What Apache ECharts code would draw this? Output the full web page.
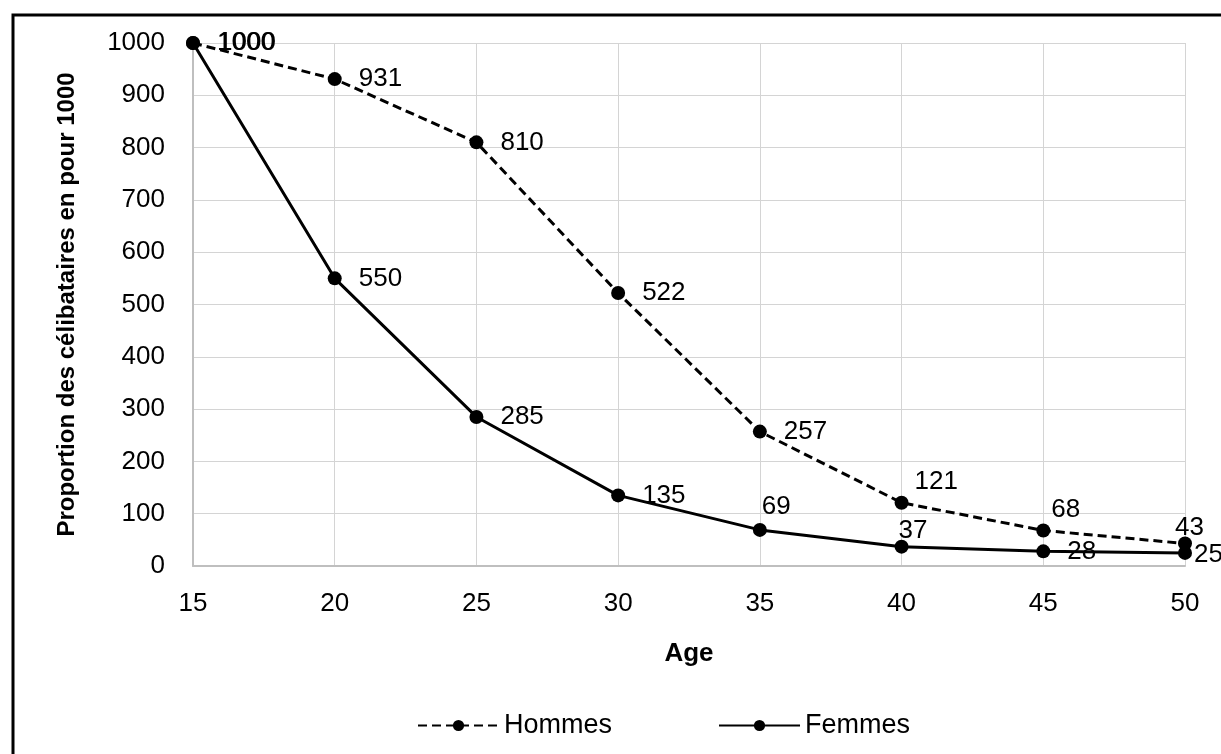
<!DOCTYPE html>
<html>
<head>
<meta charset="utf-8">
<script src="https://cdn.jsdelivr.net/npm/echarts@6/dist/echarts.min.js"></script>
<style>
  html, body { margin: 0; padding: 0; background: #fff; }
  #chart { width: 1221px; height: 754px; }
</style>
</head>
<body>
<div id="chart"></div>
<script>
  // ages (x) and proportion of single people per 1000
  var ages = [15, 20, 25, 30, 35, 40, 45, 50];
  var hommes = [1000, 931, 810, 522, 257, 121, 68, 43];
  var femmes = [1000, 550, 285, 135, 69, 37, 28, 25];
  var seriesNames = ['Hommes', 'Femmes'];

  var font = 'Liberation Sans, Arial, sans-serif';

  // a few labels sit above / left of their point in the original
  var hommesShift = {5: [-11, -21], 6: [-16, -21], 7: [-34, -16]};
  var femmesShift = {0: [1, 0], 4: [-22, -23], 5: [-27, -16], 7: [-15, 2]};

  function buildData(values, shifts) {
    return values.map(function (v, i) {
      var item = { value: [ages[i], v] };
      if (shifts[i]) {
        item.label = { offset: shifts[i] };
      }
      return item;
    });
  }

  var labelStyle = {
    show: true,
    position: 'right',
    distance: 17,
    color: '#000',
    fontFamily: font,
    fontSize: 26,
    formatter: function (p) { return p.value[1]; }
  };

  var myChart = echarts.init(document.getElementById('chart'));
  var option = {
    backgroundColor: '#fff',
    animation: false,
    graphic: [{
      type: 'rect',
      shape: { x: 13, y: 15, width: 1300, height: 800 },
      style: { fill: 'none', stroke: '#000', lineWidth: 3 },
      silent: true
    }],
    grid: { left: 193, right: 36, top: 43, bottom: 188 },
    legend: {
      data: seriesNames,
      left: 412,
      top: 707,
      itemWidth: 81,
      itemHeight: 14,
      itemGap: 106,
      textStyle: { fontFamily: font, fontSize: 27, color: '#000' }
    },
    xAxis: {
      type: 'value',
      min: 15,
      max: 50,
      interval: 5,
      name: 'Age',
      nameLocation: 'middle',
      nameGap: 75,
      nameTextStyle: { fontFamily: font, fontSize: 26, fontWeight: 'bold', color: '#000' },
      axisLine: { lineStyle: { color: '#bfbfbf', width: 2 } },
      axisTick: { show: false },
      axisLabel: { margin: 25, fontFamily: font, fontSize: 26, color: '#000' },
      splitLine: { show: true, lineStyle: { color: '#d4d4d4', width: 1 } }
    },
    yAxis: {
      type: 'value',
      min: 0,
      max: 1000,
      interval: 100,
      name: 'Proportion des célibataires en pour 1000',
      nameLocation: 'middle',
      nameGap: 114,
      nameTextStyle: { fontFamily: font, fontSize: 24, fontWeight: 'bold', color: '#000' },
      axisLine: { show: true, lineStyle: { color: '#bfbfbf', width: 2 } },
      axisTick: { show: false },
      axisLabel: {
        margin: 28,
        fontFamily: font,
        fontSize: 26,
        color: '#000',
        formatter: function (v) { return String(v); }
      },
      splitLine: { show: true, lineStyle: { color: '#d4d4d4', width: 1 } }
    },
    series: [
      {
        name: seriesNames[0],
        type: 'line',
        data: buildData(hommes, hommesShift),
        symbol: 'circle',
        symbolSize: 14,
        itemStyle: { color: '#000' },
        lineStyle: { color: '#000', width: 3, type: [9, 5] },
        label: labelStyle,
        z: 3
      },
      {
        name: seriesNames[1],
        type: 'line',
        data: buildData(femmes, femmesShift),
        symbol: 'circle',
        symbolSize: 14,
        itemStyle: { color: '#000' },
        lineStyle: { color: '#000', width: 3, type: 'solid' },
        label: labelStyle,
        z: 2
      }
    ]
  };
  myChart.setOption(option);
</script>
</body>
</html>
